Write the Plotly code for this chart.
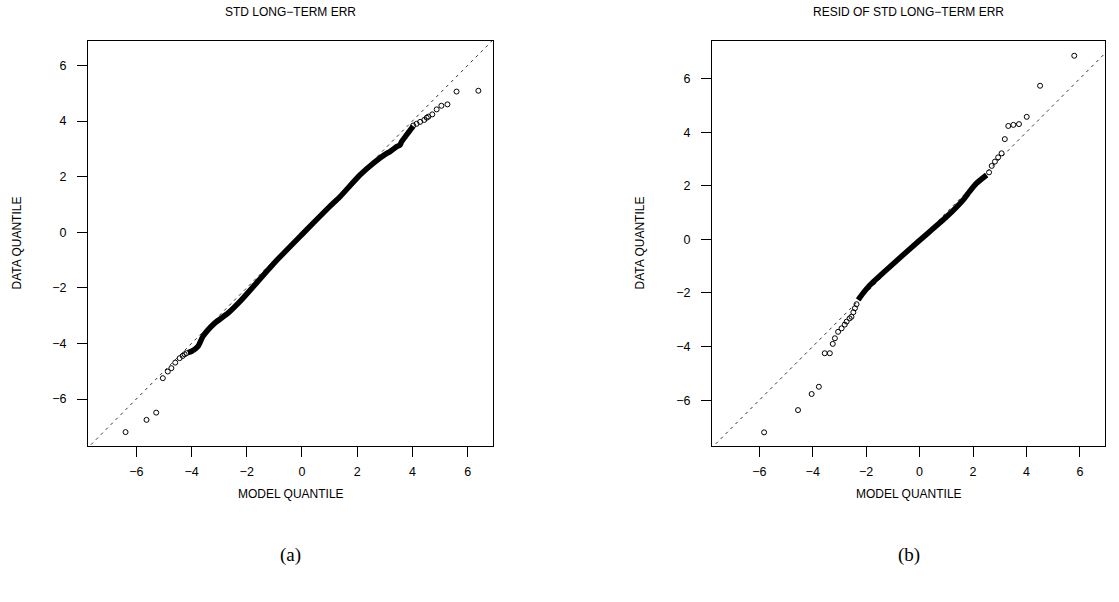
import plotly.graph_objects as go

# ---------------- data ----------------
# Panel (a): STD LONG-TERM ERR
a_body_x = [-4.13, -4.01, -3.77, -3.59, -3.16, -2.68, -2.20, -1.0, 0.0, 1.0, 1.38, 2.10, 2.58, 3.07, 3.19, 3.43, 3.55, 3.61, 3.79, 4.03]
a_body_y = [-4.33, -4.29, -4.11, -3.75, -3.27, -2.91, -2.44, -1.10, -0.08, 0.92, 1.28, 2.06, 2.48, 2.84, 2.90, 3.08, 3.14, 3.26, 3.50, 3.82]
a_tail_x = [-6.39, -5.63, -5.28, -5.04, -4.86, -4.73, -4.59, -4.43, -4.32, -4.25, -4.18,
            4.03, 4.15, 4.28, 4.43, 4.52, 4.58, 4.72, 4.88, 5.05, 5.27, 5.60, 6.39]
a_tail_y = [-7.19, -6.75, -6.49, -5.25, -5.01, -4.89, -4.69, -4.53, -4.45, -4.39, -4.35,
            3.84, 3.90, 3.97, 4.04, 4.12, 4.16, 4.24, 4.42, 4.55, 4.60, 5.06, 5.09]

# Panel (b): RESID OF STD LONG-TERM ERR
b_body_x = [-2.30, -2.17, -1.86, -1.11, 0.01, 1.01, 1.63, 1.82, 2.13, 2.51]
b_body_y = [-2.26, -2.08, -1.71, -1.02, -0.03, 0.84, 1.47, 1.72, 2.09, 2.40]
b_tail_x = [-5.82, -4.55, -4.04, -3.77, -3.55, -3.36, -3.25, -3.17, -3.05, -2.92, -2.80, -2.73, -2.62, -2.55, -2.48, -2.42, -2.36,
            2.60, 2.70, 2.82, 2.94, 3.07, 3.19, 3.32, 3.51, 3.72, 4.01, 4.51, 5.79]
b_tail_y = [-7.20, -6.37, -5.77, -5.50, -4.25, -4.25, -3.90, -3.69, -3.45, -3.32, -3.18, -3.07, -2.95, -2.89, -2.72, -2.57, -2.42,
            2.50, 2.74, 2.90, 3.06, 3.21, 3.74, 4.23, 4.27, 4.30, 4.57, 5.73, 6.85]

ref_line = [-8, 8]
tick_vals = [-6, -4, -2, 0, 2, 4, 6]

titles = ["STD LONG\u2212TERM ERR", "RESID OF STD LONG\u2212TERM ERR"]
sub_labels = ["(a)", "(b)"]
x_title = "MODEL QUANTILE"
y_title = "DATA QUANTILE"

# ---------------- figure ----------------
# the page's default 8px body margin is removed by a post script, so the figure fills the window
W, H = 1119, 602


def px_x(p):
    return p / W


def px_y(p):
    return 1 - p / H


fig = go.Figure()

panels = [
    dict(bx=a_body_x, by=a_body_y, tx=a_tail_x, ty=a_tail_y, xa="x", ya="y"),
    dict(bx=b_body_x, by=b_body_y, tx=b_tail_x, ty=b_tail_y, xa="x2", ya="y2"),
]
for p in panels:
    fig.add_trace(go.Scatter(x=ref_line, y=ref_line, mode="lines", xaxis=p["xa"], yaxis=p["ya"],
                             line=dict(color="black", width=0.8, dash="3px,4px"), hoverinfo="skip"))
    fig.add_trace(go.Scatter(x=p["bx"], y=p["by"], mode="lines", xaxis=p["xa"], yaxis=p["ya"],
                             line=dict(color="black", width=5.5, shape="spline", smoothing=0.6)))
    fig.add_trace(go.Scatter(x=p["tx"], y=p["ty"], mode="markers", xaxis=p["xa"], yaxis=p["ya"],
                             marker=dict(symbol="circle-open", size=5, color="black", line=dict(width=1))))

dom_a = [px_x(88), px_x(493)]
dom_b = [px_x(712), px_x(1105)]
dom_y = [px_y(446), px_y(41)]

axis_common = dict(showline=True, linecolor="black", linewidth=1, mirror=True, showgrid=False,
                   zeroline=False, ticks="outside", ticklen=10, tickcolor="black", tickwidth=1,
                   tickvals=tick_vals, tickfont=dict(family="Liberation Sans, Arial", size=12.5, color="black"))

fig.update_layout(
    width=W, height=H, margin=dict(l=0, r=0, t=0, b=0),
    paper_bgcolor="white", plot_bgcolor="white", showlegend=False,
    xaxis=dict(domain=dom_a, range=[-7.75, 6.92], anchor="y", ticklabelstandoff=4, **axis_common),
    yaxis=dict(domain=dom_y, range=[-7.69, 6.88], anchor="x", ticklabelstandoff=8, **axis_common),
    xaxis2=dict(domain=dom_b, range=[-7.77, 6.94], anchor="y2", ticklabelstandoff=4, **axis_common),
    yaxis2=dict(domain=dom_y, range=[-7.71, 7.40], anchor="x2", ticklabelstandoff=8, **axis_common),
)

font_s = dict(family="Liberation Sans, Arial", size=12, color="black")
font_serif = dict(family="Liberation Serif, Times New Roman", size=19, color="black")
centers = [(dom_a[0] + dom_a[1]) / 2, (dom_b[0] + dom_b[1]) / 2]
ylab_x = [px_x(17), px_x(640)]
ymid = (dom_y[0] + dom_y[1]) / 2
for i in range(2):
    fig.add_annotation(text=titles[i], x=centers[i], y=px_y(12), xref="paper", yref="paper",
                       showarrow=False, font=font_s, xanchor="center", yanchor="middle")
    fig.add_annotation(text=x_title, x=centers[i], y=px_y(494), xref="paper", yref="paper",
                       showarrow=False, font=font_s, xanchor="center", yanchor="middle")
    fig.add_annotation(text=y_title, x=ylab_x[i], y=ymid, xref="paper", yref="paper", textangle=-90,
                       showarrow=False, font=font_s, xanchor="center", yanchor="middle")
    fig.add_annotation(text=sub_labels[i], x=centers[i], y=px_y(555), xref="paper", yref="paper",
                       showarrow=False, font=font_serif, xanchor="center", yanchor="middle")

fig.write_html("out.html",
               config={"displayModeBar": False, "staticPlot": True},
               post_script="document.body.style.margin='0';document.body.style.overflow='hidden';")
